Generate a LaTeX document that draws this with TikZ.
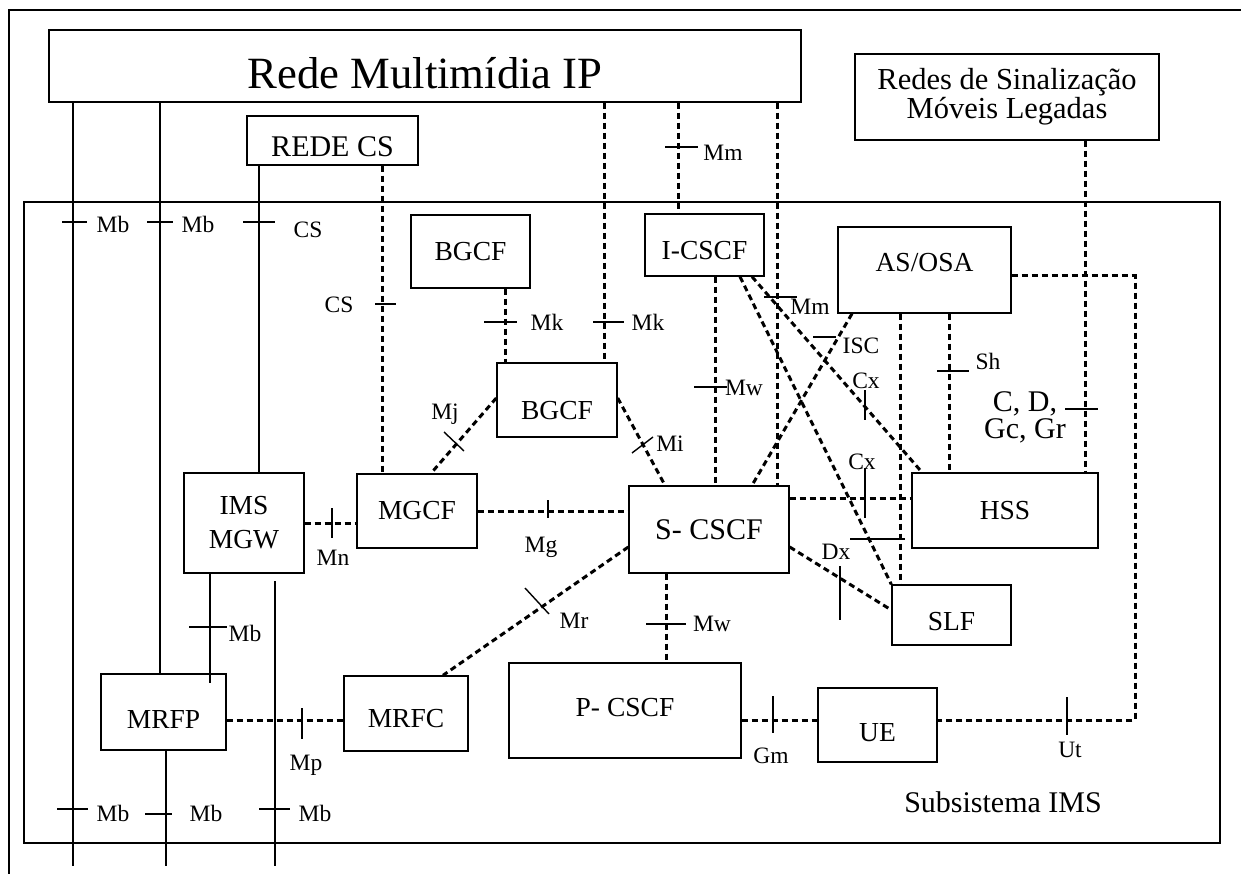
\documentclass[tikz,border=0pt]{standalone}
\usepackage{fontspec}
\setmainfont{Liberation Serif}
\usetikzlibrary{calc}

\newcommand{\fslbl}{\fontsize{23.5}{26}\selectfont}
\newcommand{\fsbox}{\fontsize{27.5}{34}\selectfont}

\tikzset{
  fbox/.style={draw, line width=1.4pt, inner sep=0pt, align=center, font=\fsbox},
  tpos/.style 2 args={text height=#1, text depth=#2},
  sline/.style={line width=1.6pt},
  dline/.style={line width=3pt, dash pattern=on 6pt off 4pt},
  tickln/.style={line width=1.4pt},
  ilbl/.style={inner sep=0pt, font=\fslbl},
}

\begin{document}
\begin{tikzpicture}[x=1pt, y=-1pt]
  \useasboundingbox (0,0) rectangle (1241,874);
  % outer frame
  \draw[line width=2.4pt] (1241,10) -- (9,10) -- (9,874);

  % outside networks
  \node[fbox, minimum width=752pt, minimum height=72pt, font=\fontsize{44.7}{50}\selectfont, tpos={45pt}{0pt}] (ipnet) at (425,66) {Rede Multimídia IP};
  \node[fbox, minimum width=171pt, minimum height=49pt, font=\fontsize{30}{32}\selectfont, tpos={32pt}{0pt}] (csnet) at (332.5,140.5) {REDE CS};
  \node[fbox, minimum width=304pt, minimum height=86pt, font=\fontsize{30.5}{27}\selectfont] (legacy) at (1007,97) {Redes de Sinalização\\Móveis Legadas};

  % IMS subsystem
  \node[fbox, minimum width=1196pt, minimum height=641pt] (ims) at (622,522.5) {};
  \node[inner sep=0pt, font=\fontsize{30}{32}\selectfont] (imslbl) at (1003,802) {Subsistema IMS};

  \node[fbox, minimum width=119pt, minimum height=73pt] (bgcfa) at (470.5,251.5) {BGCF};
  \node[fbox, minimum width=119pt, minimum height=62pt, tpos={28.5pt}{0pt}] (icscf) at (704.5,245) {I-CSCF};
  \node[fbox, minimum width=173pt, minimum height=86pt, tpos={18pt}{14pt}] (asosa) at (924.5,270) {AS/OSA};
  \node[fbox, minimum width=120pt, minimum height=74pt, tpos={38pt}{0pt}] (bgcfb) at (557,400) {BGCF};
  \node[fbox, minimum width=120pt, minimum height=100pt] (mgw) at (244,523) {IMS\\MGW};
  \node[fbox, minimum width=120pt, minimum height=74pt] (mgcf) at (417,511) {MGCF};
  \node[fbox, minimum width=160pt, minimum height=87pt, font=\fontsize{30}{32}\selectfont] (scscf) at (709,529.5) {S- CSCF};
  \node[fbox, minimum width=186pt, minimum height=75pt] (hss) at (1005,510.5) {HSS};
  \node[fbox, minimum width=119pt, minimum height=60pt, tpos={30.5pt}{0pt}] (slf) at (951.5,615) {SLF};
  \node[fbox, minimum width=125pt, minimum height=76pt, tpos={32.5pt}{0pt}] (mrfp) at (163.5,712) {MRFP};
  \node[fbox, minimum width=124pt, minimum height=75pt, tpos={27.5pt}{0pt}] (mrfc) at (406,713.5) {MRFC};
  \node[fbox, minimum width=232pt, minimum height=95pt, tpos={18.5pt}{7pt}] (pcscf) at (625,710.5) {P- CSCF};
  \node[fbox, minimum width=119pt, minimum height=74pt, tpos={32.5pt}{0pt}] (ue) at (877.5,725) {UE};

  % free ends
  \coordinate (aend) at (73,866);
  \coordinate (cend) at (166,866);
  \coordinate (dtop) at (275,581);
  \coordinate (dend) at (275,866);
  \coordinate (mbend) at (210,683);
  \coordinate (utc) at (1135,720);

  % bearer links
  \draw[sline] (ipnet.south -| 73,0) -- (aend);
  \draw[sline] (ipnet.south -| 160,0) -- (mrfp.north -| 160,0);
  \draw[sline] (csnet.south -| 259,0) -- (mgw.north -| 259,0);
  \draw[sline] (mgw.south -| 210,0) -- (mbend);
  \draw[sline] (mrfp.south -| 166,0) -- (cend);
  \draw[sline] (dtop) -- (dend);

  % signalling links
  \draw[dline] (ipnet.south -| 604,0) -- (bgcfb.north -| 604,0);
  \draw[dline] (ipnet.south -| 678,0) -- (icscf.north -| 678,0);
  \draw[dline] (ipnet.south -| 777,0) -- (scscf.north -| 777,0);
  \draw[dline] (csnet.south -| 382,0) -- (mgcf.north -| 382,0);
  \draw[dline] (legacy.south -| 1085,0) -- (hss.north -| 1085,0);
  \draw[dline] (bgcfa.south -| 505,0) -- (bgcfb.north -| 505,0);
  \draw[dline] (icscf.south -| 715,0) -- (scscf.north -| 715,0);
  \draw[dline] (asosa.south -| 900,0) -- (slf.north -| 900,0);
  \draw[dline] (asosa.south -| 949,0) -- (hss.north -| 949,0);
  \draw[dline] (scscf.south -| 666,0) -- (pcscf.north -| 666,0);
  \draw[dline] (mgw.east) -- (mgw.east -| mgcf.west);
  \draw[dline] (mgcf.east) -- (mgcf.east -| scscf.west);
  \draw[dline] (scscf.east |- 0,498) -- (hss.west |- 0,498);
  \draw[dline] (mrfp.east |- 0,720) -- (mrfc.west |- 0,720);
  \draw[dline] (pcscf.east |- 0,720) -- (ue.west |- 0,720);
  \draw[dline] (asosa.east |- 0,276) -| (utc) -- (ue.east |- 0,720);
  \draw[dline] (icscf.south -| 740,0) -- (slf.north west);
  \draw[dline] (icscf.south -| 752,0) -- (hss.north -| 922,0);
  \draw[dline] (asosa.south -| 852,0) -- (scscf.north -| 752,0);
  \draw[dline] (scscf.east |- 0,547) -- (slf.west |- 0,610);
  \draw[dline] (bgcfb.west |- 0,398) -- (mgcf.north -| 431,0);
  \draw[dline] (bgcfb.east |- 0,398) -- (scscf.north -| 665,0);
  \draw[dline] (scscf.west |- 0,547) -- (mrfc.north -| 443,0);

  % reference point ticks
  \draw[tickln] (62,222) -- (87,222);
  \draw[tickln] (147,222) -- (173,222);
  \draw[tickln] (243,222) -- (275,222);
  \draw[tickln] (57,809) -- (88,809);
  \draw[tickln] (145,814) -- (172,814);
  \draw[tickln] (259,809) -- (290,809);
  \draw[tickln] (189,627) -- (227,627);
  \draw[tickln] (302,708) -- (302,739);
  \draw[tickln] (332,508) -- (332,538);
  \draw[tickln] (548,500) -- (548,518);
  \draw[tickln] (375,304) -- (396,304);
  \draw[tickln] (484,322) -- (517,322);
  \draw[tickln] (593,322) -- (624,322);
  \draw[tickln] (665,147) -- (698,147);
  \draw[tickln] (764,297) -- (797,297);
  \draw[tickln] (694,387) -- (727,387);
  \draw[tickln] (813,337) -- (836,337);
  \draw[tickln] (865,390) -- (865,420);
  \draw[tickln] (865,468) -- (865,518);
  \draw[tickln] (850,539) -- (905,539);
  \draw[tickln] (840,566) -- (840,620);
  \draw[tickln] (937,371) -- (969,371);
  \draw[tickln] (1065,409) -- (1098,409);
  \draw[tickln] (1067,697) -- (1067,735);
  \draw[tickln] (646,624) -- (686,624);
  \draw[tickln] (773,696) -- (773,733);
  \draw[tickln] (444,432) -- (464,451);
  \draw[tickln] (632,453) -- (653,437);
  \draw[tickln] (525,588) -- (549,614);

  % reference point labels
  \node[ilbl] (lmbA) at (113,224) {Mb};
  \node[ilbl] (lmbB) at (198,224) {Mb};
  \node[ilbl] (lcsA) at (308,230) {CS};
  \node[ilbl] (lmbC) at (245,633) {Mb};
  \node[ilbl] (lmbD) at (113,813) {Mb};
  \node[ilbl] (lmbE) at (206,813) {Mb};
  \node[ilbl] (lmbF) at (315,813) {Mb};
  \node[ilbl] (lmp) at (306,765) {Mp};
  \node[ilbl] (lmn) at (333,558) {Mn};
  \node[ilbl] (lmg) at (541,547) {Mg};
  \node[ilbl] (lcsB) at (339,305) {CS};
  \node[ilbl] (lmkA) at (547,322) {Mk};
  \node[ilbl] (lmkB) at (648,322) {Mk};
  \node[ilbl] (lmmA) at (723,153) {Mm};
  \node[ilbl] (lmmB) at (810,307) {Mm};
  \node[ilbl] (lmwA) at (744,388) {Mw};
  \node[ilbl] (lisc) at (861,346) {ISC};
  \node[ilbl] (lcxA) at (866,381) {Cx};
  \node[ilbl] (lcxB) at (862,462) {Cx};
  \node[ilbl] (ldx) at (836,552) {Dx};
  \node[ilbl] (lsh) at (988,361) {Sh};
  \node[ilbl, align=center, font=\fontsize{30}{27}\selectfont] (lcd) at (1025,417) {C, D,\\Gc, Gr};
  \node[ilbl] (lmj) at (445,414) {Mj};
  \node[ilbl] (lmi) at (670,444) {Mi};
  \node[ilbl] (lmr) at (574,621) {Mr};
  \node[ilbl] (lmwB) at (712,624) {Mw};
  \node[ilbl] (lgm) at (771,756) {Gm};
  \node[ilbl] (lut) at (1070,750) {Ut};
\end{tikzpicture}
\end{document}
